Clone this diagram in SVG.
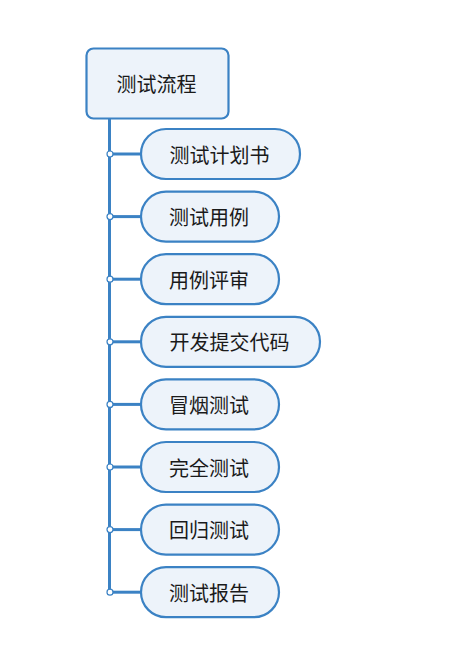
<svg xmlns="http://www.w3.org/2000/svg" width="476" height="672" viewBox="0 0 476 672">
<style>
.box{fill:#edf3fa;stroke:#3b82c4;stroke-width:2.2}
.t{font-family:"Noto Sans CJK SC","Noto Sans",sans-serif;font-size:20px;fill:#1a1a1a;text-anchor:middle;dominant-baseline:central}
.ln{stroke:#3b82c4;stroke-width:3;fill:none}
.dot{fill:#ffffff;stroke:#3b82c4;stroke-width:1.2}
</style>
<rect width="476" height="672" fill="#ffffff"/>
<g id="connectors">
<line class="ln" x1="109.5" y1="119" x2="109.5" y2="592"/>
<line class="ln" x1="110" y1="154" x2="141" y2="154"/>
<line class="ln" x1="110" y1="216.6" x2="141" y2="216.6"/>
<line class="ln" x1="110" y1="279.2" x2="141" y2="279.2"/>
<line class="ln" x1="110" y1="341.8" x2="141" y2="341.8"/>
<line class="ln" x1="110" y1="404.4" x2="141" y2="404.4"/>
<line class="ln" x1="110" y1="467" x2="141" y2="467"/>
<line class="ln" x1="110" y1="529.6" x2="141" y2="529.6"/>
<line class="ln" x1="110" y1="592.2" x2="141" y2="592.2"/>
<circle class="dot" cx="110" cy="154" r="3"/>
<circle class="dot" cx="110" cy="216.6" r="3"/>
<circle class="dot" cx="110" cy="279.2" r="3"/>
<circle class="dot" cx="110" cy="341.8" r="3"/>
<circle class="dot" cx="110" cy="404.4" r="3"/>
<circle class="dot" cx="110" cy="467" r="3"/>
<circle class="dot" cx="110" cy="529.6" r="3"/>
<circle class="dot" cx="110" cy="592.2" r="3"/>
</g>
<g id="root"><rect class="box" x="86.5" y="48.5" width="142" height="70" rx="7"/><text class="t" x="156.5" y="83.5">测试流程</text></g>
<g id="n1"><rect class="box" x="141" y="129" width="159" height="50" rx="25"/><text class="t" x="219.5" y="154">测试计划书</text></g>
<g id="n2"><rect class="box" x="141" y="191.6" width="138" height="50" rx="25"/><text class="t" x="209" y="216.6">测试用例</text></g>
<g id="n3"><rect class="box" x="141" y="254.2" width="138" height="50" rx="25"/><text class="t" x="209" y="279.2">用例评审</text></g>
<g id="n4"><rect class="box" x="141" y="316.8" width="179" height="50" rx="25"/><text class="t" x="229.5" y="341.8">开发提交代码</text></g>
<g id="n5"><rect class="box" x="141" y="379.4" width="138" height="50" rx="25"/><text class="t" x="209" y="404.4">冒烟测试</text></g>
<g id="n6"><rect class="box" x="141" y="442" width="138" height="50" rx="25"/><text class="t" x="209" y="467">完全测试</text></g>
<g id="n7"><rect class="box" x="141" y="504.6" width="138" height="50" rx="25"/><text class="t" x="209" y="529.6">回归测试</text></g>
<g id="n8"><rect class="box" x="141" y="567.2" width="138" height="50" rx="25"/><text class="t" x="209" y="592.2">测试报告</text></g>
</svg>
